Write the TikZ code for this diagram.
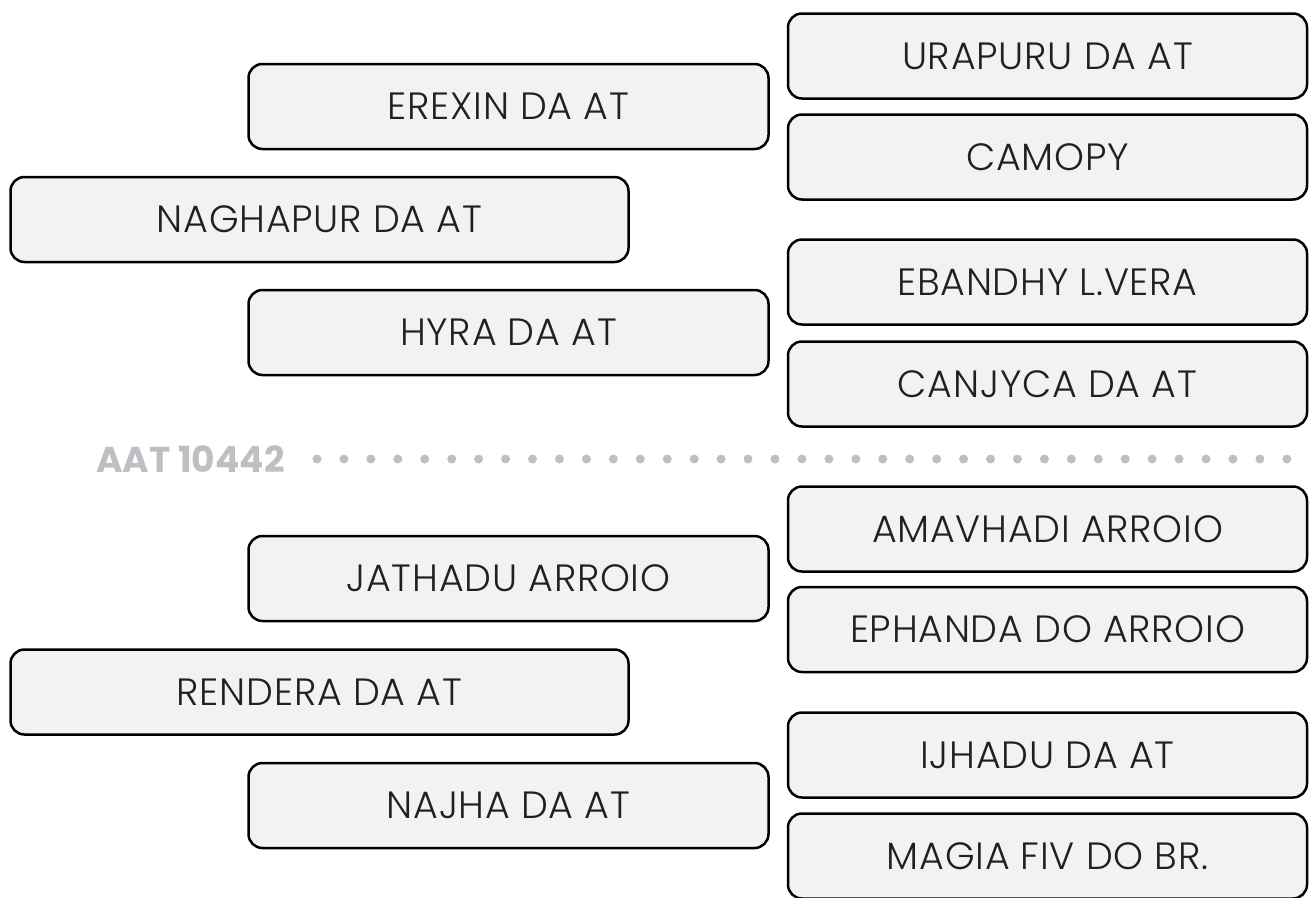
\documentclass[tikz,border=0pt]{standalone}
\usepackage{fontspec}
\setmainfont{Poppins}[UprightFont=* Light,BoldFont=* Bold]
\newfontfamily\boxfont{Poppins Light}[LetterSpace=2]
\usepackage{tikz}
\usetikzlibrary{positioning}
\definecolor{boxfill}{HTML}{F1F2F4}
\definecolor{boxtext}{HTML}{231F20}
\definecolor{markgray}{HTML}{BEBFC3}
\tikzset{
  place/.style={draw=black,line width=2.5pt,fill=boxfill,rounded corners=14pt,
    minimum height=85pt,inner sep=0pt,text=boxtext,
    font=\boxfont\fontsize{38}{42}\selectfont},
  midbox/.style={place,minimum width=520pt},
  farbox/.style={place,minimum width=618pt},
  sidebox/.style={place,minimum width=519pt},
}
\begin{document}
\begin{tikzpicture}[x=1pt,y=-1pt]
    \useasboundingbox[fill=white] (0,0) rectangle (1309,897);
    % upper group
    \node[sidebox] (urapuru) at (1047.5,56) {URAPURU DA AT};
    \node[sidebox] (camopy) at (1047.5,157) {CAMOPY};
    \node[sidebox] (ebandhy) at (1047.5,282) {EBANDHY L.VERA};
    \node[sidebox] (canjyca) at (1047.5,384) {CANJYCA DA AT};
    \node[midbox] (erexin) at (508.5,106.5) {EREXIN DA AT};
    \node[farbox] (naghapur) at (319.5,219.5) {NAGHAPUR DA AT};
    \node[midbox] (hyra) at (508.5,332.5) {HYRA DA AT};
    % divider
    \node[text=markgray,font=\fontsize{36}{40}\selectfont\bfseries,inner sep=0pt]
        (aat) at (190.5,459) {AAT 10442};
    \foreach \k in {0,...,36}
        \fill[markgray] ({317+26.94*\k},459) circle (4.5);
    % lower group
    \node[sidebox] (amavhadi) at (1047.5,529) {AMAVHADI ARROIO};
    \node[sidebox] (ephanda) at (1047.5,629.5) {EPHANDA DO ARROIO};
    \node[sidebox] (ijhadu) at (1047.5,755) {IJHADU DA AT};
    \node[sidebox] (magia) at (1047.5,856) {MAGIA FIV DO BR.};
    \node[midbox] (jathadu) at (508.5,578.5) {JATHADU ARROIO};
    \node[farbox] (rendera) at (319.5,692) {RENDERA DA AT};
    \node[midbox] (najha) at (508.5,805.5) {NAJHA DA AT};
\end{tikzpicture}
\end{document}
